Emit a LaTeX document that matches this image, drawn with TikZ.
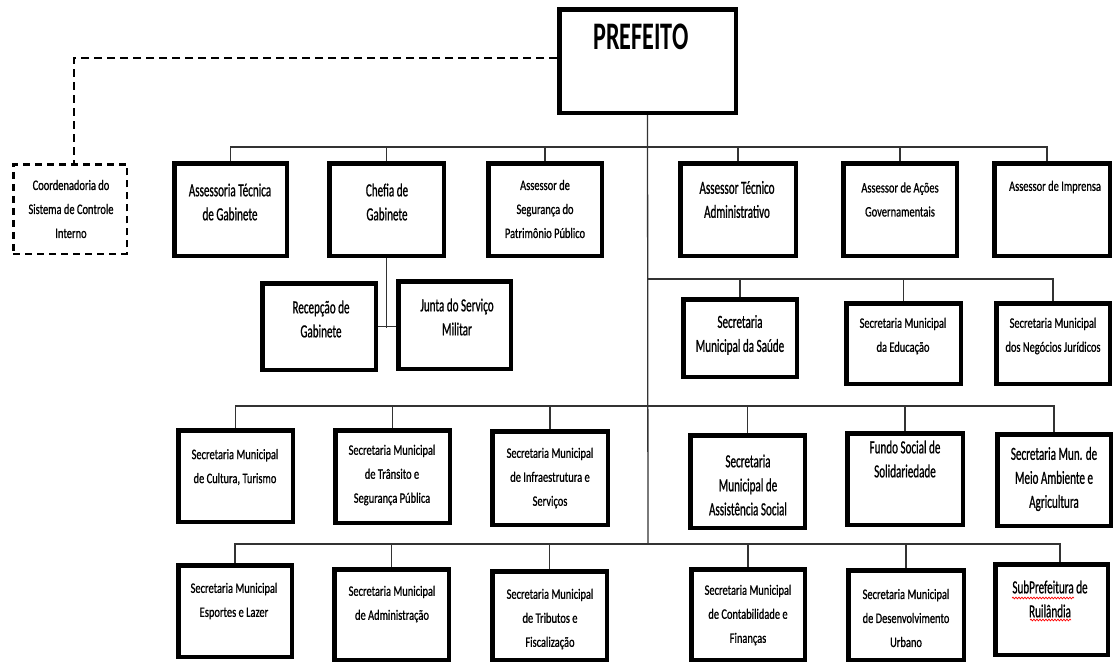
\documentclass[tikz,border=0pt]{standalone}
\usepackage{fontspec}
\usetikzlibrary{decorations.pathmorphing}
\setmainfont{Carlito}
\newfontfamily\bigfont[FakeStretch=0.6, FakeBold=0.8]{Carlito}
\newfontfamily\smallfont[FakeStretch=0.72, FakeBold=0.8]{Carlito}
\newfontfamily\titlefont[FakeStretch=0.62]{Carlito}

\tikzset{
  orgbox/.style={draw=black, line width=4.5pt, rectangle, inner sep=0pt, fill=white},
  ctrlbox/.style={draw=black, line width=2.5pt, dash pattern=on 7pt off 5pt, rectangle, inner sep=0pt},
  link/.style={draw=black!80, line width=1.3pt},
  dashlink/.style={draw=black, line width=2.8pt, dash pattern=on 8pt off 5pt},
  bigtxt/.style={font=\bigfont\fontsize{18.5}{24}\selectfont, align=center, inner sep=0pt},
  smalltxt/.style={font=\smallfont\fontsize{14.5}{24}\selectfont, align=center, inner sep=0pt},
  titletxt/.style={font=\titlefont\bfseries\fontsize{39}{40}\selectfont, inner sep=0pt},
  spellmark/.style={draw=red, line width=0.7pt, decorate,
    decoration={snake, segment length=3pt, amplitude=0.9pt}},
}

% box given by its outer edges: name, x1, y1, x2, y2
\newcommand\obox[5]{%
  \node[orgbox, minimum width={#4-#2-4.5}, minimum height={#5-#3-4.5}]
    (#1) at ({(#2+#4)/2},{(#3+#5)/2}) {};}

\begin{document}
\begin{tikzpicture}[x=1pt, y=-1pt]
\useasboundingbox (0,0) rectangle (1114,664);

% ---------- boxes ----------
\obox{pref}{557}{7}{738}{115}
\node[ctrlbox, minimum width=113.5, minimum height=89.5] (coord) at (70,209) {};

\obox{ast}{172}{161}{289}{258}
\obox{chefia}{327}{161}{446}{258}
\obox{seg}{486}{161}{604}{258}
\obox{ata}{678}{161}{798}{258}
\obox{acoes}{841}{161}{959}{258}
\obox{impr}{992}{161}{1112}{258}

\obox{recep}{260}{281}{378}{372}
\obox{junta}{396}{279}{513}{371}

\obox{saude}{681}{297}{799}{379}
\obox{educ}{844}{301}{963}{386}
\obox{neg}{994}{301}{1112}{386}

\obox{cult}{176}{428}{295}{524}
\obox{trans}{333}{428}{452}{525}
\obox{infra}{490}{429}{610}{527}
\obox{assist}{688}{433}{807}{530}
\obox{fundo}{845}{431}{965}{527}
\obox{meio}{995}{432}{1113}{528}

\obox{esp}{176}{563}{294}{659}
\obox{adm}{332}{567}{451}{662}
\obox{trib}{490}{569}{609}{662}
\obox{cont}{689}{567}{807}{662}
\obox{desenv}{846}{568}{966}{662}
\obox{sub}{993}{562}{1110}{657}

% ---------- connectors ----------
\coordinate (bus1) at (0,147);
\coordinate (bus2) at (0,279);
\coordinate (bus3) at (0,406);
\coordinate (bus4) at (0,544);
\coordinate (trunkend) at (648,544);

% main trunk
\draw[link] (pref.south) -- (trunkend);

% advisors
\draw[link] (ast.north) -- (ast.north |- bus1) -- ([xshift=-5pt]impr.north |- bus1) -- ([xshift=-5pt]impr.north);
\foreach \n in {chefia,seg,ata,acoes}
  \draw[link] (\n.north) -- (\n.north |- bus1);

% chefia de gabinete
\draw[link] (chefia.south) -- (chefia.south |- 0,328);
\draw[link] (recep.east) -- (recep.east -| junta.west);

% second level
\draw[link] (pref.south |- bus2) -- (neg.north |- bus2) -- (neg.north);
\foreach \n in {saude,educ}
  \draw[link] (\n.north) -- (\n.north |- bus2);

% third level
\draw[link] (cult.north) -- (cult.north |- bus3) -- (meio.north |- bus3) -- (meio.north);
\foreach \n in {trans,infra,assist,fundo}
  \draw[link] (\n.north) -- (\n.north |- bus3);

% fourth level
\draw[link] (esp.north) -- (esp.north |- bus4) -- ([xshift=8.5pt]sub.north |- bus4) -- ([xshift=8.5pt]sub.north);
\foreach \n in {adm,trib,cont,desenv}
  \draw[link] (\n.north) -- (\n.north |- bus4);

% internal control (dashed)
\draw[dashlink] ([yshift=3pt]pref.west) -| ([xshift=4pt]coord.north);

% ---------- texts ----------
\node[titletxt] (pref-t) at (641,37) {PREFEITO};
\node[smalltxt] (coord-t) at (71,209) {Coordenadoria do\\Sistema de Controle\\Interno};

\node[bigtxt] (ast-t) at (230,202) {Assessoria Técnica\\de Gabinete};
\node[bigtxt] (chefia-t) at (387,202) {Chefia de\\Gabinete};
\node[smalltxt] (seg-t) at (545,209) {Assessor de\\Segurança do\\Patrimônio Público};
\node[bigtxt] (ata-t) at (737,199.5) {Assessor Técnico\\Administrativo};
\node[smalltxt] (acoes-t) at (900,199.5) {Assessor de Ações\\Governamentais};
\node[smalltxt] (impr-t) at (1055,187) {Assessor de Imprensa};

\node[bigtxt] (recep-t) at (321,319) {Recepção de\\Gabinete};
\node[bigtxt] (junta-t) at (457,317) {Junta do Serviço\\Militar};

\node[bigtxt] (saude-t) at (740,335) {Secretaria\\Municipal da Saúde};
\node[smalltxt] (educ-t) at (903,336) {Secretaria Municipal\\da Educação};
\node[smalltxt] (neg-t) at (1053,336) {Secretaria Municipal\\dos Negócios Jurídicos};

\node[smalltxt] (cult-t) at (235,467) {Secretaria Municipal\\de Cultura, Turismo};
\node[smalltxt] (trans-t) at (392,475) {Secretaria Municipal\\de Trânsito e\\Segurança Pública};
\node[smalltxt] (infra-t) at (550,478) {Secretaria Municipal\\de Infraestrutura e\\Serviços};
\node[bigtxt] (assist-t) at (748,485) {Secretaria\\Municipal de\\Assistência Social};
\node[bigtxt] (fundo-t) at (905,459) {Fundo Social de\\Solidariedade};
\node[bigtxt] (meio-t) at (1054,479) {Secretaria Mun. de\\Meio Ambiente e\\Agricultura};

\node[smalltxt] (esp-t) at (234,601) {Secretaria Municipal\\Esportes e Lazer};
\node[smalltxt] (adm-t) at (392,604) {Secretaria Municipal\\de Administração};
\node[smalltxt] (trib-t) at (550,619) {Secretaria Municipal\\de Tributos e\\Fiscalização};
\node[smalltxt] (cont-t) at (748,615) {Secretaria Municipal\\de Contabilidade e\\Finanças};
\node[smalltxt] (desenv-t) at (906,618) {Secretaria Municipal\\de Desenvolvimento\\Urbano};
\node[bigtxt] (sub-t) at (1050,599) {SubPrefeitura de\\Ruilândia};

% spell-check marks under the subprefecture name
\draw[spellmark] (1012,598) -- (1074,598);
\draw[spellmark] (1030,620) -- (1071,620);
\end{tikzpicture}
\end{document}
